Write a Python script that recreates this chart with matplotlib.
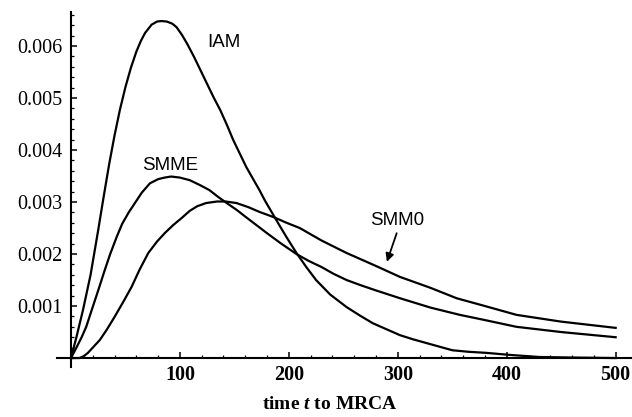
import matplotlib
matplotlib.use("Agg")
import matplotlib.pyplot as plt
from matplotlib.ticker import MultipleLocator, FixedLocator, FixedFormatter

plt.rcParams['mathtext.fontset'] = 'custom'
plt.rcParams['mathtext.rm'] = 'Liberation Serif:bold'
plt.rcParams['mathtext.it'] = 'Liberation Serif:italic:bold'

# ---- data ----
iam_t = [0, 5, 11, 18, 25, 30, 35, 40, 45, 50, 55, 60, 64, 68, 74, 79, 83, 88,
         93, 97, 102, 107, 113, 119, 125, 131, 137, 143, 149, 155, 161, 167, 173, 178,
         183, 190, 198, 207, 216, 225, 238, 253, 265, 277, 290, 302, 314, 326, 338, 350,
         365, 381, 403, 430, 460, 500]
iam_y = [0, 0.0004, 0.00092, 0.0016, 0.00246, 0.0031, 0.00372, 0.00428, 0.00478, 0.00521,
         0.00558, 0.00589, 0.00609, 0.00625, 0.00641, 0.00647, 0.00648, 0.00647,
         0.00643, 0.00636, 0.00621, 0.00603, 0.00579, 0.00553, 0.00527, 0.00501, 0.00477,
         0.00449, 0.00419, 0.00393, 0.00367, 0.00345, 0.00323, 0.00303, 0.00285, 0.00260,
         0.00232, 0.00202, 0.00175, 0.0015, 0.00122, 0.00098, 0.00082, 0.00067, 0.00055,
         0.00044, 0.00036, 0.00029, 0.00022, 0.00015, 0.00012, 0.0001, 0.00006, 0.00002,
         0.00001, 0.0]

smme_t = [0, 5, 9.8, 14, 19, 25, 31, 36, 42, 47, 53, 58.7, 65, 72.5, 80, 86, 92, 100,
          109, 118, 127, 135, 143, 152, 160, 170, 180, 193, 207, 218, 230, 241, 253, 266,
          280, 302, 330, 357, 380, 409, 450, 500]
smme_y = [0, 0.0002, 0.0004, 0.0006, 0.00092, 0.0013, 0.00169, 0.002, 0.00233, 0.00258,
          0.0028, 0.00298, 0.00318, 0.00336, 0.00344, 0.00347, 0.00349, 0.00347, 0.00342,
          0.00333, 0.00323, 0.0031, 0.00298, 0.00285, 0.00272, 0.00256, 0.0024, 0.0022,
          0.002, 0.00187, 0.00175, 0.00162, 0.0015, 0.0014, 0.0013, 0.00115, 0.00097,
          0.00083, 0.00073, 0.0006, 0.0005, 0.0004]

smm0_t = [0, 8, 12, 15.6, 20, 26.6, 33, 40, 48, 55.7, 63, 71, 79, 86, 94, 101.5, 109,
          116, 124, 134, 142, 152, 163, 173, 186, 198, 210, 230, 253, 280, 302, 330, 354,
          380, 409, 450, 500]
smm0_y = [0, 0, 0.00004, 0.0001, 0.0002, 0.00035, 0.00055, 0.00079, 0.00108, 0.00137,
          0.0017, 0.00202, 0.00224, 0.0024, 0.00256, 0.00269, 0.00283, 0.00292, 0.00298,
          0.00301, 0.00301, 0.00298, 0.0029, 0.00281, 0.00271, 0.0026, 0.0025, 0.00226,
          0.00202, 0.00177, 0.00156, 0.00135, 0.00115, 0.001, 0.00083, 0.0007, 0.00058]

x_ticks = [100, 200, 300, 400, 500]
x_ticklabels = ["100", "200", "300", "400", "500"]
y_ticks = [0.001, 0.002, 0.003, 0.004, 0.005, 0.006]
y_ticklabels = ["0.001", "0.002", "0.003", "0.004", "0.005", "0.006"]

# ---- figure ----
fig = plt.figure(figsize=(6.32, 4.17), dpi=100)
ax = fig.add_axes([56.8 / 632, (417 - 367.4) / 417, 575.2 / 632, 355.2 / 417])

lw = 1.6
for t, y in [(iam_t, iam_y), (smme_t, smme_y), (smm0_t, smm0_y)]:
    ax.plot(t, y, color='black', lw=lw, solid_joinstyle='round')

ax.set_xlim(-13, 515)
ax.set_ylim(-0.00018, 0.00665)

for s in ['top', 'right']:
    ax.spines[s].set_visible(False)
ax.spines['left'].set_position(('data', 0))
ax.spines['bottom'].set_position(('data', 0))
ax.spines['left'].set_linewidth(1.5)
ax.spines['bottom'].set_linewidth(1.5)

ax.xaxis.set_major_locator(FixedLocator(x_ticks))
ax.xaxis.set_major_formatter(FixedFormatter(x_ticklabels))
ax.xaxis.set_minor_locator(MultipleLocator(20))
ax.yaxis.set_major_locator(FixedLocator(y_ticks))
ax.yaxis.set_major_formatter(FixedFormatter(y_ticklabels))
ax.yaxis.set_minor_locator(MultipleLocator(0.0002))

ax.tick_params(which='major', direction='in', length=4, width=1.1)
ax.tick_params(which='minor', direction='in', length=2.2, width=0.9)
ax.tick_params(axis='x', which='major', pad=5)
ax.tick_params(axis='y', which='major', pad=6)

for lab in ax.get_xticklabels():
    lab.set_fontfamily('Liberation Serif')
    lab.set_fontweight('bold')
    lab.set_fontsize(14.5)
for lab in ax.get_yticklabels():
    lab.set_fontfamily('Liberation Serif')
    lab.set_fontsize(14.5)

# curve labels
lab_kw = dict(fontfamily='Liberation Sans', fontsize=13.5, color='black')
ax.text(125, 0.00606, "IAM", ha='left', va='center', **lab_kw)
ax.text(91, 0.00371, "SMME", ha='center', va='center', **lab_kw)
ax.text(299, 0.00265, "SMM0", ha='center', va='center', **lab_kw)
ax.annotate("", xy=(290, 0.00185), xytext=(299, 0.00240),
            arrowprops=dict(arrowstyle='-|>', color='black', lw=1.3,
                            mutation_scale=12, shrinkA=0, shrinkB=0))

fig.text(330 / 632, 1 - 404.5 / 417, "time $t$ to MRCA", ha='center', va='center',
         fontfamily='Liberation Serif', fontweight='bold', fontsize=14)

fig.savefig("out.png", dpi=100)
